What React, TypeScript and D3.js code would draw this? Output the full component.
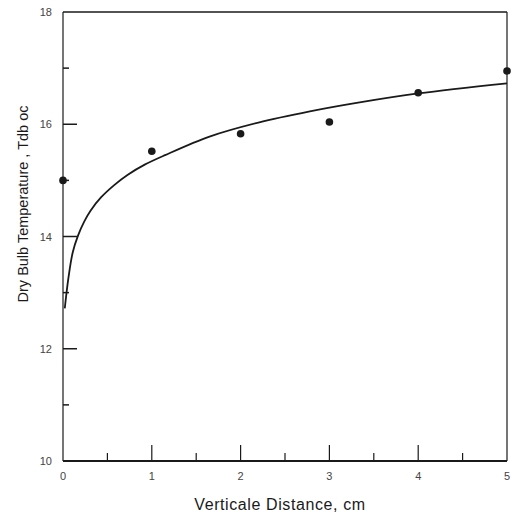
import React from "react";
import * as d3 from "d3";

// measured points (distance cm, dry bulb temp)
const pointX = [0, 1, 2, 3, 4, 5];
const pointY = [15.0, 15.52, 15.83, 16.04, 16.56, 16.95];

// fitted curve
const curveX = [0.02, 0.06, 0.11, 0.17, 0.24, 0.31, 0.43, 0.58, 0.73, 0.92, 1.15, 1.65, 2.2, 2.78, 3.34, 4, 5];
const curveY = [12.72, 13.25, 13.72, 14.02, 14.27, 14.46, 14.7, 14.92, 15.1, 15.28, 15.45, 15.78, 16.03, 16.23, 16.39, 16.55, 16.73];

const xTicks = [0, 1, 2, 3, 4, 5];
const xMinor = [0.5, 1.5, 2.5, 3.5, 4.5];
const yTicks = [10, 12, 14, 16, 18];
const yMinor = [11, 13, 15, 17];

const W = 521;
const H = 518;
const left = 63;
const right = 507;
const top = 12;
const bottom = 461;

export default function App() {
  const x = d3.scaleLinear().domain([0, 5]).range([left, right]);
  const y = d3.scaleLinear().domain([10, 18]).range([bottom, top]);

  const line = d3
    .line<number>()
    .x((d, i) => x(curveX[i]))
    .y((d) => y(d))
    .curve(d3.curveCatmullRom.alpha(0.5));

  const ink = "#1a1a1a";
  const font = "Liberation Sans, Arial, sans-serif";

  return (
    <svg width={W} height={H} style={{ position: "absolute", left: 0, top: 0, background: "#fff" }}>
      {/* frame */}
      <line x1={left} x2={right} y1={top} y2={top} stroke={ink} strokeWidth={1.6} />
      <line x1={right} x2={right} y1={top} y2={bottom} stroke={ink} strokeWidth={1.2} />
      <line x1={left} x2={left} y1={top} y2={bottom} stroke={ink} strokeWidth={1.2} />
      <line x1={left} x2={right} y1={bottom} y2={bottom} stroke={ink} strokeWidth={2} />

      {/* y ticks */}
      {yTicks.slice(1, -1).map((t) => (
        <line key={"ym" + t} x1={left} x2={left + 14} y1={y(t)} y2={y(t)} stroke={ink} strokeWidth={1.5} />
      ))}
      {yMinor.map((t) => (
        <line key={"yn" + t} x1={left} x2={left + 6} y1={y(t)} y2={y(t)} stroke={ink} strokeWidth={1.5} />
      ))}
      {yTicks.map((t) => (
        <text key={"yl" + t} x={left - 11} y={y(t) + 4} textAnchor="end" fontSize={11} fill="#444" fontFamily={font}>
          {t}
        </text>
      ))}

      {/* x ticks */}
      {xTicks.slice(1, -1).map((t) => (
        <line key={"xm" + t} x1={x(t)} x2={x(t)} y1={bottom} y2={bottom - 16} stroke={ink} strokeWidth={1.2} />
      ))}
      {xMinor.map((t) => (
        <line key={"xn" + t} x1={x(t)} x2={x(t)} y1={bottom} y2={bottom - 8} stroke={ink} strokeWidth={1.2} />
      ))}
      {xTicks.map((t) => (
        <text key={"xl" + t} x={x(t)} y={bottom + 19} textAnchor="middle" fontSize={11} fill="#444" fontFamily={font}>
          {t}
        </text>
      ))}

      {/* curve */}
      <path d={line(curveY) || ""} fill="none" stroke={ink} strokeWidth={1.8} />

      {/* points */}
      {pointY.map((v, i) => (
        <circle key={"p" + i} cx={x(pointX[i])} cy={y(v)} r={3.8} fill={ink} />
      ))}

      {/* axis titles */}
      <text x={280} y={510} textAnchor="middle" fontSize={16} letterSpacing={0.6} fill="#1a1a1a" fontFamily={font}>
        Verticale Distance, cm
      </text>
      <text
        transform={`translate(28, 204) rotate(-90)`}
        textAnchor="middle"
        fontSize={14.5}
        fill="#1a1a1a"
        fontFamily={font}
      >
        Dry Bulb Temperature , Tdb oc
      </text>
    </svg>
  );
}
